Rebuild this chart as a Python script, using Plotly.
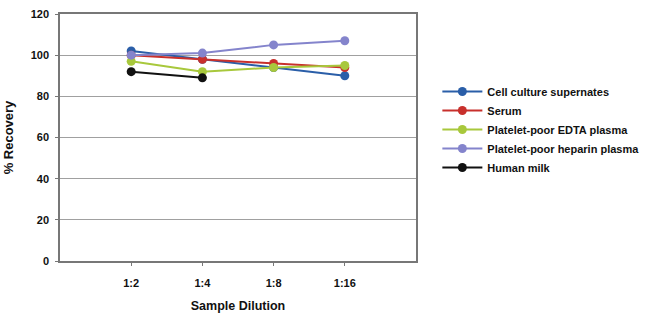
import plotly.graph_objects as go

categories = ["1:2", "1:4", "1:8", "1:16"]
positions = [1, 2, 3, 4]
series_names = ["Cell culture supernates", "Serum", "Platelet-poor EDTA plasma",
                "Platelet-poor heparin plasma", "Human milk"]
cell_culture = [102, 98, 94, 90]
serum = [100, 98, 96, 94]
edta = [97, 92, 94, 95]
heparin = [100, 101, 105, 107]
human_milk = [92, 89]
colors = ["#2a5ea8", "#c8302c", "#a8c83c", "#8484cc", "#111111"]

FONT = "Liberation Sans Narrow, Arial Narrow, Liberation Sans, sans-serif"

fig = go.Figure()
for name, vals, col in zip(series_names, [cell_culture, serum, edta, heparin, human_milk], colors):
    fig.add_trace(go.Scatter(
        x=positions[:len(vals)], y=vals, name=name, mode="lines+markers",
        line=dict(color=col, width=2), marker=dict(color=col, size=9, symbol="circle")))

fig.update_layout(
    width=650, height=326, paper_bgcolor="white", plot_bgcolor="white",
    margin=dict(l=60, r=234, t=14, b=65, autoexpand=False),
    font=dict(family=FONT, size=11, color="#111111"),
    legend=dict(x=1.06, y=0.745, xanchor="left", yanchor="top",
                font=dict(family=FONT, size=11, color="#111111", weight="bold"),
                itemwidth=40, tracegroupgap=0),
    showlegend=True,
)
fig.update_xaxes(
    range=[0, 5], tickmode="array", tickvals=positions, ticktext=categories,
    showgrid=False, showline=True, linecolor="#777777", linewidth=1.5, mirror=True,
    ticks="outside", ticklen=3, tickcolor="#777777", ticklabelstandoff=8,
    tickfont=dict(family=FONT, size=11, weight="bold"),
    title=dict(text="Sample Dilution", font=dict(family=FONT, size=12.5, weight="bold"), standoff=13),
    zeroline=False)
fig.update_yaxes(
    range=[0, 120], tickvals=[0, 20, 40, 60, 80, 100, 120],
    showgrid=True, gridcolor="#a0a0a0", gridwidth=1,
    showline=True, linecolor="#777777", linewidth=1.5, mirror=True,
    ticks="outside", ticklen=3, tickcolor="#777777", ticklabelstandoff=4,
    tickfont=dict(family=FONT, size=11, weight="bold"),
    title=dict(text="% Recovery", font=dict(family=FONT, size=13, weight="bold"), standoff=14),
    zeroline=False)

fig.write_html("out.html")
